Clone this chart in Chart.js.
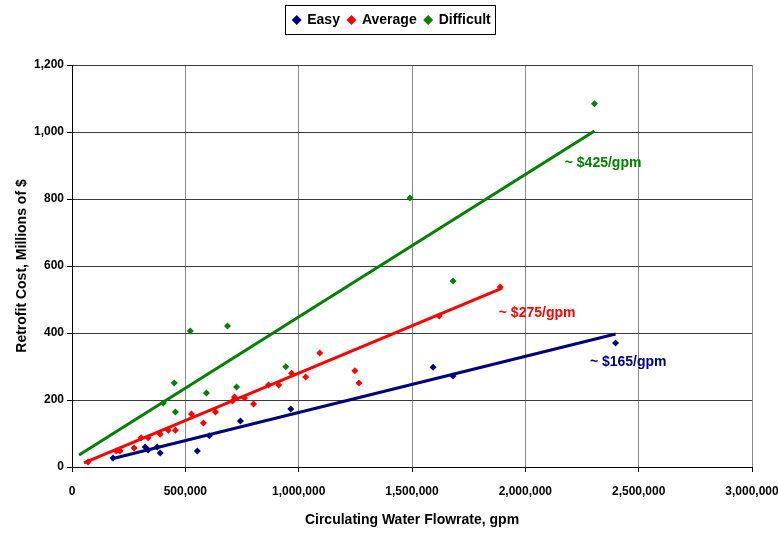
<!DOCTYPE html>
<html>
<head>
<meta charset="utf-8">
<script src="https://cdn.jsdelivr.net/npm/chart.js@4/dist/chart.umd.min.js"></script>
<style>
  html, body { margin: 0; padding: 0; background: #fff; }
  #wrap { width: 778px; height: 533px; }
</style>
</head>
<body>
<div id="wrap"><canvas id="chartRetrofit"></canvas></div>
<script>
// data (gpm, millions of $)
const seriesNames = ["Easy", "Average", "Difficult"];
const easyX = [181000, 323000, 336000, 376000, 389000, 553000, 606000, 743000, 965000, 1593000, 1681000, 2398000];
const easyY = [27, 60, 51, 60, 42, 48, 93, 137, 173, 298, 272, 370];
const avgX = [71000, 195000, 212000, 274000, 305000, 336000, 389000, 425000, 456000, 527000, 580000, 633000, 708000, 717000, 761000, 801000, 867000, 912000, 969000, 1031000, 1093000, 1248000, 1266000, 1620000, 1889000];
const avgY = [15, 48, 48, 57, 87, 87, 98, 110, 110, 158, 131, 164, 197, 209, 206, 188, 245, 245, 280, 269, 340, 287, 251, 451, 537];
const diffX = [403000, 451000, 456000, 522000, 593000, 686000, 726000, 943000, 1491000, 1681000, 2305000];
const diffY = [191, 251, 164, 406, 221, 421, 239, 299, 803, 555, 1084];

// trend lines (end points)
const easyFitX = [172000, 2398000];
const easyFitY = [24, 397];
const avgFitX = [53000, 1898000];
const avgFitY = [12, 534];
const diffFitX = [31000, 2305000];
const diffFitY = [36, 1003];

const fitLabels = ["~ $165/gpm", "~ $275/gpm", "~ $425/gpm"];

const xTicks = [0, 500000, 1000000, 1500000, 2000000, 2500000, 3000000];
const yTicks = [0, 200, 400, 600, 800, 1000, 1200];

const navy = "#000080", red = "#ff0000", green = "#008000";
const FONT = "'Liberation Sans Narrow', 'Liberation Sans', Arial, sans-serif";

const toPts = (xs, ys) => xs.map((x, i) => ({ x: x, y: ys[i] }));

function scatterSet(label, xs, ys, color) {
    return {
        type: "scatter", label: label, data: toPts(xs, ys),
        backgroundColor: color, borderColor: color,
        pointStyle: "rectRot", pointRadius: 3.5, pointHoverRadius: 3.5, borderWidth: 0
    };
}
function fitSet(xs, ys, color) {
    return {
        type: "line", label: "fit", data: toPts(xs, ys),
        borderColor: color, borderWidth: 3, pointRadius: 0, fill: false, tension: 0
    };
}

// box around legend + slope labels
const extras = {
    id: "extras",
    beforeInit(chart) {
        // leave room under the legend, plot starts lower in the original
        const lg = chart.legend;
        const fit = lg.fit;
        lg.fit = function () { fit.call(this); this.height += 28; };
    },
    afterDraw(chart) {
        const ctx = chart.ctx;
        const lg = chart.legend;
        if (lg && lg.legendHitBoxes.length) {
            const hb = lg.legendHitBoxes;
            const l = hb[0].left - 8, r = hb[hb.length - 1].left + hb[hb.length - 1].width + 4;
            const t = hb[0].top - 8, b = hb[0].top + hb[0].height + 7;
            ctx.save();
            ctx.strokeStyle = "#000"; ctx.lineWidth = 1;
            ctx.strokeRect(Math.round(l) + 0.5, Math.round(t) + 0.5, Math.round(r - l), Math.round(b - t));
            ctx.restore();
        }
        const xs = chart.scales.x, ys = chart.scales.y;
        const spots = [
            { text: fitLabels[0], x: 2454000, y: 313, color: navy },
            { text: fitLabels[1], x: 2052000, y: 460, color: red },
            { text: fitLabels[2], x: 2343000, y: 907, color: green }
        ];
        ctx.save();
        ctx.font = "bold 14px " + FONT;
        ctx.textAlign = "center"; ctx.textBaseline = "middle";
        spots.forEach(s => {
            ctx.fillStyle = s.color;
            ctx.fillText(s.text, xs.getPixelForValue(s.x), ys.getPixelForValue(s.y));
        });
        ctx.restore();
    }
};

new Chart(document.getElementById("chartRetrofit"), {
    data: {
        datasets: [
            scatterSet(seriesNames[0], easyX, easyY, navy),
            scatterSet(seriesNames[1], avgX, avgY, red),
            scatterSet(seriesNames[2], diffX, diffY, green),
            fitSet(easyFitX, easyFitY, navy),
            fitSet(avgFitX, avgFitY, red),
            fitSet(diffFitX, diffFitY, green)
        ]
    },
    options: {
        responsive: true,
        maintainAspectRatio: false,
        animation: false,
        layout: { padding: { left: 6, right: 0, top: 5, bottom: 4 } },
        plugins: {
            tooltip: { enabled: false },
            legend: {
                position: "top",
                labels: {
                    filter: item => item.text !== "fit",
                    usePointStyle: true, pointStyle: "rectRot", boxWidth: 7, boxHeight: 7,
                    padding: 8, color: "#000",
                    font: { family: FONT, size: 14, weight: "bold" }
                }
            }
        },
        scales: {
            x: {
                type: "linear", min: 0, max: 3000000,
                afterBuildTicks: axis => { axis.ticks = xTicks.map(v => ({ value: v })); },
                afterFit: s => { s.height = 62; s.paddingRight = 26; },
                ticks: {
                    color: "#000", padding: 12, maxRotation: 0,
                    font: { family: FONT, size: 12, weight: "bold" },
                    callback: v => v.toLocaleString("en-US")
                },
                grid: { color: "#8a8a8a", lineWidth: 1, tickLength: 5, tickColor: "#000" },
                border: { color: "#000", width: 1 },
                title: {
                    display: true, text: "Circulating Water Flowrate, gpm", color: "#000",
                    font: { family: FONT, size: 14, weight: "bold" }, padding: { top: 6, bottom: 0 }
                }
            },
            y: {
                type: "linear", min: 0, max: 1200,
                afterBuildTicks: axis => { axis.ticks = yTicks.map(v => ({ value: v })); },
                afterFit: s => { s.width = 66; },
                ticks: {
                    color: "#000", padding: 3,
                    font: { family: FONT, size: 12, weight: "bold" },
                    callback: v => v.toLocaleString("en-US")
                },
                grid: { color: "#3a3a3a", lineWidth: 1, tickLength: 5, tickColor: "#000" },
                border: { color: "#000", width: 1 },
                title: {
                    display: true, text: "Retrofit Cost, Millions of $", color: "#000",
                    font: { family: FONT, size: 14, weight: "bold" }, padding: { top: 8, bottom: 6 }
                }
            }
        }
    },
    plugins: [extras]
});
</script>
</body>
</html>
